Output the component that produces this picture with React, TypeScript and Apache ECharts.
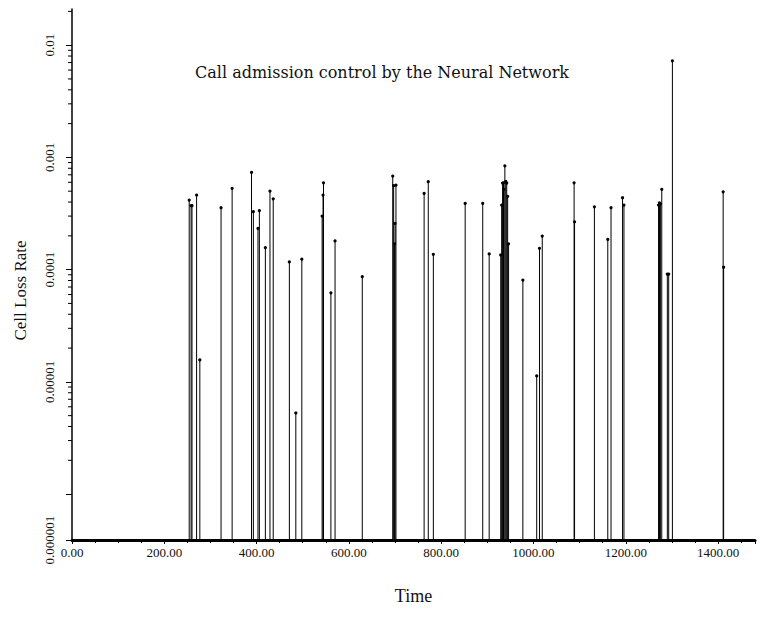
import React, { useEffect, useRef } from "react";
import * as echarts from "echarts";

// Time of each non-zero cell-loss sample
const times: number[] = [
  254, 258, 260, 270, 277, 323, 347, 389, 393, 403, 406, 419, 429, 436, 471, 485, 498,
  542, 544, 545, 561, 570, 629,
  695, 697, 699, 700, 702,
  763, 772, 783, 852, 890, 904,
  929, 931, 933, 935, 936, 938, 940, 942, 944, 946,
  977, 1007, 1013, 1019, 1088, 1089, 1132, 1161, 1168, 1193, 1196,
  1271, 1273, 1275, 1278, 1290, 1293, 1301, 1411, 1412,
];
// Cell loss rate at each of those times
const rates: number[] = [
  4.17e-4, 3.71e-4, 3.71e-4, 4.62e-4, 1.57e-5, 3.56e-4, 5.3e-4, 7.35e-4, 3.28e-4, 2.33e-4, 3.35e-4, 1.57e-4, 5.01e-4, 4.28e-4, 1.17e-4, 5.28e-6, 1.24e-4,
  3.0e-4, 4.62e-4, 5.94e-4, 6.22e-5, 1.8e-4, 8.65e-5,
  6.82e-4, 5.6e-4, 1.7e-4, 2.58e-4, 5.66e-4,
  4.78e-4, 6.07e-4, 1.37e-4, 3.89e-4, 3.89e-4, 1.38e-4,
  1.35e-4, 3.76e-4, 5.9e-4, 5.94e-4, 5.2e-4, 8.41e-4, 6.1e-4, 5.9e-4, 4.5e-4, 1.7e-4,
  8.07e-5, 1.13e-5, 1.55e-4, 1.99e-4, 5.94e-4, 2.67e-4, 3.63e-4, 1.86e-4, 3.56e-4, 4.37e-4, 3.76e-4,
  3.76e-4, 3.94e-4, 3.85e-4, 5.19e-4, 9.14e-5, 9.14e-5, 7.25e-3, 4.94e-4, 1.05e-4,
];

// Y axis floor (where zero-loss samples sit) and top
const Y_MIN = 3.9e-7;
const Y_MAX = 0.021;
const X_MAX = 1480;

// Y axis tick labels (the floor is labelled as in the original figure)
const yTickValues: number[] = [Y_MIN, 1e-5, 1e-4, 1e-3, 1e-2];
const yTickLabels: string[] = ["0.000001", "0.00001", "0.0001", "0.001", "0.01"];
// X axis tick labels
const xTickValues: number[] = [0, 200, 400, 600, 800, 1000, 1200, 1400];
const xTickLabels: string[] = ["0.00", "200.00", "400.00", "600.00", "800.00", "1000.00", "1200.00", "1400.00"];

// Log-scale minor tick positions (2..9 within each decade)
const minorTickValues: number[] = [];
for (let e = -6; e <= -2; e++) {
  for (let m = 2; m <= 9; m++) {
    const v = m * Math.pow(10, e);
    if (v < Y_MAX) minorTickValues.push(v);
  }
}

const FONT = "'Liberation Serif', 'DejaVu Serif', serif";

export default function App() {
  const ref = useRef<HTMLDivElement>(null);
  useEffect(() => {
    if (!ref.current) return;
    const chart = echarts.init(ref.current, null, { renderer: "svg" });
    const data = times.map((t, i) => [t, rates[i]]);
    chart.setOption({
      animation: false,
      backgroundColor: "#fff",
      title: {
        text: "Call admission control by the Neural Network",
        left: 377,
        top: 59,
        textAlign: "center",
        textStyle: { fontFamily: "'DejaVu Serif', serif", fontSize: 16, fontWeight: "normal", color: "#111" },
      },
      grid: { left: 72, right: 9, top: 9, bottom: 89, containLabel: false },
      xAxis: {
        type: "value",
        min: 0,
        max: X_MAX,
        interval: 200,
        name: "Time",
        nameLocation: "middle",
        nameGap: 47,
        nameTextStyle: { fontFamily: FONT, fontSize: 18, color: "#111" },
        axisLine: { show: true, onZero: false, lineStyle: { color: "#000", width: 3 } },
        axisTick: { show: true, length: 4, lineStyle: { color: "#000", width: 1 } },
        minorTick: { show: true, splitNumber: 4, length: 3, lineStyle: { color: "#000" } },
        splitLine: { show: false },
        axisLabel: {
          fontFamily: FONT,
          fontSize: 13,
          color: "#111",
          margin: 6,
          showMaxLabel: false,
          formatter: (v: number) => {
            const i = xTickValues.findIndex((t) => Math.abs(t - v) < 1e-6);
            return i >= 0 ? xTickLabels[i] : "";
          },
        },
      },
      yAxis: {
        type: "log",
        logBase: 10,
        min: Y_MIN,
        max: Y_MAX,
        name: "Cell Loss Rate",
        nameLocation: "middle",
        nameGap: 43,
        nameRotate: 90,
        nameTextStyle: { fontFamily: FONT, fontSize: 17, color: "#111", padding: [0, 32, 0, 0] },
        axisLine: { show: true, lineStyle: { color: "#000", width: 1.5 } },
        axisTick: { show: true, length: 6, lineStyle: { color: "#000", width: 1 } },
        splitLine: { show: false },
        axisLabel: {
          fontFamily: FONT,
          fontSize: 13,
          color: "#111",
          rotate: 90,
          margin: 16,
          showMinLabel: true,
          showMaxLabel: false,
          hideOverlap: false,
          formatter: (v: number) => {
            const lv = Math.log10(v);
            const i = yTickValues.findIndex((t) => Math.abs(Math.log10(t) - lv) < 0.01);
            return i >= 0 ? yTickLabels[i] : "";
          },
        },
      },
      series: [
        {
          type: "custom",
          name: "Cell Loss Rate",
          clip: false,
          data,
          renderItem: (params: any, api: any) => {
            const top = api.coord([api.value(0), api.value(1)]);
            const base = api.coord([api.value(0), Y_MIN]);
            const children: any[] = [
              {
                type: "line",
                shape: { x1: top[0], y1: base[1], x2: top[0], y2: top[1] },
                style: { stroke: "#000", lineWidth: 1 },
              },
              {
                type: "circle",
                shape: { cx: top[0], cy: top[1], r: 1.6 },
                style: { fill: "#000" },
              },
            ];
            if (params.dataIndex === 0) {
              minorTickValues.forEach((v) => {
                const p = api.coord([0, v]);
                children.push({
                  type: "line",
                  shape: { x1: p[0] - 4, y1: p[1], x2: p[0], y2: p[1] },
                  style: { stroke: "#000", lineWidth: 1 },
                });
              });
            }
            return { type: "group", children };
          },
        },
      ],
    });
    return () => chart.dispose();
  }, []);
  return <div ref={ref} style={{ width: 764, height: 629, position: "absolute", left: 0, top: 0 }} />;
}
